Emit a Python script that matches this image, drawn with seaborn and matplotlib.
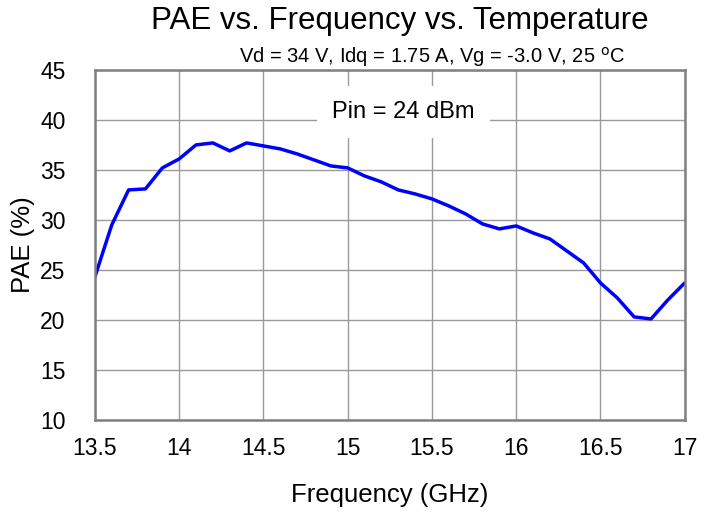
import matplotlib
matplotlib.use("Agg")
import matplotlib.pyplot as plt
import seaborn as sns
import pandas as pd

freq = [13.5, 13.6, 13.7, 13.8, 13.9, 14.0, 14.1, 14.2, 14.3, 14.4, 14.5, 14.6,
        14.7, 14.8, 14.9, 15.0, 15.1, 15.2, 15.3, 15.4, 15.5, 15.6, 15.7, 15.8,
        15.9, 16.0, 16.1, 16.2, 16.3, 16.4, 16.5, 16.6, 16.7, 16.8, 16.9, 17.0]
pae = [24.3, 29.5, 33.0, 33.1, 35.2, 36.1, 37.5, 37.7, 36.9, 37.7, 37.4, 37.1,
       36.6, 36.0, 35.4, 35.2, 34.4, 33.8, 33.0, 32.6, 32.1, 31.4, 30.6, 29.6,
       29.1, 29.4, 28.7, 28.1, 26.9, 25.7, 23.7, 22.2, 20.3, 20.1, 22.0, 23.7]
xticks = [13.5, 14, 14.5, 15, 15.5, 16, 16.5, 17]
xticklabels = ["13.5", "14", "14.5", "15", "15.5", "16", "16.5", "17"]
yticks = [10, 15, 20, 25, 30, 35, 40, 45]

sns.set_theme(style="white")
plt.rcParams['font.family'] = ['Liberation Sans', 'DejaVu Sans']
plt.rcParams['text.color'] = 'black'
plt.rcParams['axes.labelcolor'] = 'black'
plt.rcParams['xtick.color'] = 'black'
plt.rcParams['ytick.color'] = 'black'

df = pd.DataFrame({"Frequency": freq, "PAE": pae})

fig = plt.figure(figsize=(7.03, 5.14), dpi=100)
ax = fig.add_axes([0.135, 0.183, 0.839, 0.681])

sns.lineplot(data=df, x="Frequency", y="PAE", ax=ax, color="#0000ff", linewidth=2.5)

ax.set_xlim(13.5, 17)
ax.set_ylim(10, 45)
ax.set_xticks(xticks)
ax.set_xticklabels(xticklabels)
ax.set_yticks(yticks)
ax.tick_params(axis="x", labelsize=16.5, length=0, pad=12)
ax.tick_params(axis="y", labelsize=16.5, length=0, pad=21)
ax.grid(True, color="#9a9a9a", linewidth=1.0)
for s in ax.spines.values():
    s.set_color("#808080")
    s.set_linewidth(1.8)

ax.set_xlabel("Frequency (GHz)", fontsize=18.5, labelpad=17)
ax.set_ylabel("PAE (%)", fontsize=18.5, labelpad=4)

fig.text(400 / 703, 1 - 21 / 514, "PAE vs. Frequency vs. Temperature",
         ha="center", va="center", fontsize=22.5)
fig.text(432 / 703, 1 - 57 / 514, r"Vd = 34 V, Idq = 1.75 A, Vg = -3.0 V, 25 $^{\mathrm{o}}$C",
         ha="center", va="center", fontsize=14.5)

ax.text(15.33, 40.8, "Pin = 24 dBm", ha="center", va="center", fontsize=17,
        bbox=dict(facecolor="white", edgecolor="none", boxstyle="square,pad=0.65"))

fig.savefig("out.png", dpi=100)
